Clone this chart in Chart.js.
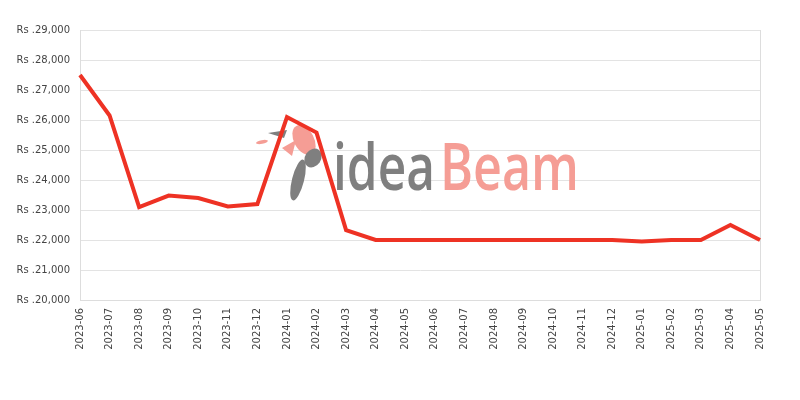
<!DOCTYPE html>
<html>
<head>
<meta charset="utf-8">
<script src="https://cdn.jsdelivr.net/npm/chart.js@4.4.0/dist/chart.umd.min.js"></script>
<style>
    html, body { margin: 0; padding: 0; background: #fff; }
    #wrap { width: 800px; height: 400px; }
</style>
</head>
<body>
<div id="wrap"><canvas id="priceChart"></canvas></div>
<script>
// Chart data
const months = ["2023-06", "2023-07", "2023-08", "2023-09", "2023-10", "2023-11", "2023-12",
    "2024-01", "2024-02", "2024-03", "2024-04", "2024-05", "2024-06", "2024-07", "2024-08",
    "2024-09", "2024-10", "2024-11", "2024-12", "2025-01", "2025-02", "2025-03", "2025-04", "2025-05"];
const prices = [27500, 26150, 23100, 23480, 23400, 23120, 23200,
    26100, 25580, 22330, 22000, 22000, 22000, 22000, 22000,
    22000, 22000, 22000, 22000, 21950, 22000, 22000, 22500, 22000];
const yMin = 20000;
const yMax = 29000;
const yStep = 1000;

// Watermark (logo text + rough feather mark)
const fitText = (ctx, text, x, baseline, width, color) => {
    const w = ctx.measureText(text).width;
    ctx.save();
    ctx.translate(x, baseline);
    ctx.scale(width / w, 1);
    ctx.fillStyle = color;
    ctx.fillText(text, 0, 0);
    ctx.restore();
};

const watermark = {
    id: "watermark",
    beforeDatasetsDraw(chart) {
        const ctx = chart.ctx;
        ctx.save();
        ctx.font = "600 66px 'Open Sans', sans-serif";
        ctx.textBaseline = "alphabetic";
        fitText(ctx, "idea", 333, 190, 102, "#7f7f7f");
        fitText(ctx, "Beam", 440, 190, 139, "#f59d95");

        // pink bird
        ctx.fillStyle = "#f59d95";
        ctx.beginPath();
        ctx.ellipse(304, 140, 10, 16, -0.5, 0, Math.PI * 2);
        ctx.fill();
        ctx.beginPath();
        ctx.ellipse(262, 142, 6, 1.8, -0.2, 0, Math.PI * 2);
        ctx.fill();
        ctx.beginPath();
        ctx.moveTo(282, 148);
        ctx.lineTo(296, 140);
        ctx.lineTo(292, 156);
        ctx.closePath();
        ctx.fill();
        // grey feather
        ctx.fillStyle = "#7f7f7f";
        ctx.beginPath();
        ctx.ellipse(298, 180, 6, 21, 0.25, 0, Math.PI * 2);
        ctx.fill();
        ctx.beginPath();
        ctx.ellipse(313, 158, 8, 10, 0.6, 0, Math.PI * 2);
        ctx.fill();
        ctx.beginPath();
        ctx.moveTo(268, 133);
        ctx.lineTo(287, 130);
        ctx.lineTo(284, 138);
        ctx.closePath();
        ctx.fill();
        ctx.restore();
    }
};

const formatPrice = (v) => "Rs ." + v.toLocaleString("en-US");

const ctx = document.getElementById("priceChart").getContext("2d");
new Chart(ctx, {
    type: "line",
    data: {
        labels: months,
        datasets: [{
            data: prices,
            borderColor: "#ee3224",
            borderWidth: 4,
            pointRadius: 0,
            tension: 0,
            fill: false
        }]
    },
    options: {
        responsive: true,
        maintainAspectRatio: false,
        animation: false,
        font: { family: "'DejaVu Sans', sans-serif" },
        layout: { padding: { top: 30, right: 40, left: 0, bottom: 0 } },
        plugins: {
            legend: { display: false },
            tooltip: { enabled: false }
        },
        scales: {
            x: {
                afterFit: (scale) => { scale.height = 100; },
                grid: {
                    drawTicks: false,
                    color: (c) => c.index === months.length - 1 ? "#dddddd" : "rgba(0,0,0,0)"
                },
                border: { color: "#dddddd" },
                ticks: {
                    color: "#444",
                    font: { family: "'DejaVu Sans', sans-serif", size: 10 },
                    padding: 8,
                    autoSkip: false,
                    maxRotation: 90,
                    minRotation: 90
                }
            },
            y: {
                min: yMin,
                max: yMax,
                afterFit: (scale) => { scale.width = 80; },
                grid: { color: "#e3e3e3", drawTicks: false },
                border: { color: "#dddddd" },
                ticks: {
                    stepSize: yStep,
                    color: "#444",
                    font: { family: "'DejaVu Sans', sans-serif", size: 10 },
                    padding: 10,
                    callback: (v) => formatPrice(v)
                }
            }
        }
    },
    plugins: [watermark]
});
</script>
</body>
</html>
